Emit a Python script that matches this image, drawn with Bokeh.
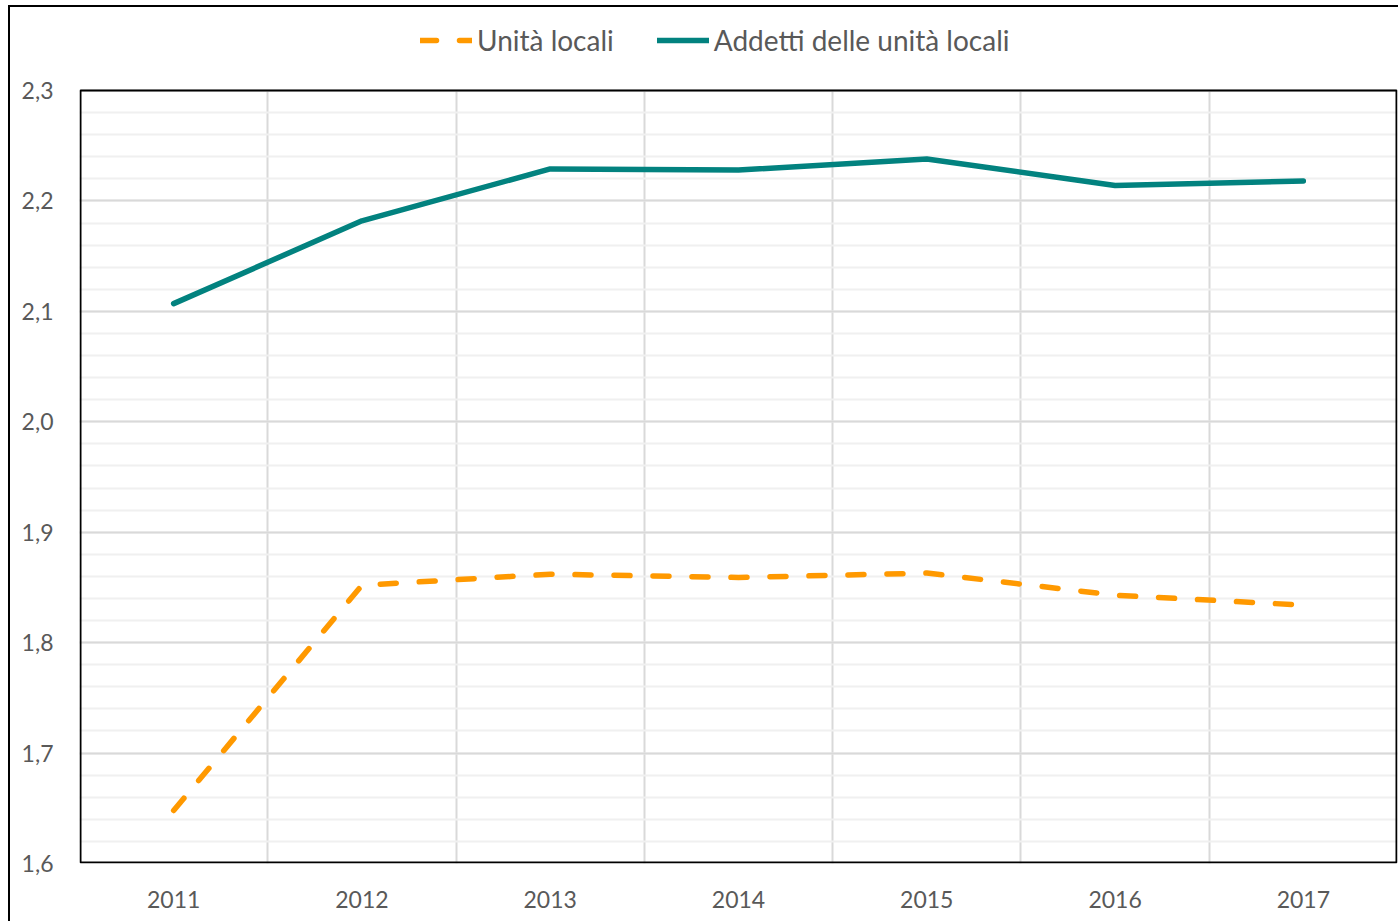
from bokeh.plotting import figure
from bokeh.models import FixedTicker, Legend, LegendItem, ColumnDataSource, BoxAnnotation
from bokeh.embed import file_html
from bokeh.resources import INLINE
import numpy as np

years = ["2011", "2012", "2013", "2014", "2015", "2016", "2017"]
unita_locali = [1.648, 1.852, 1.862, 1.859, 1.863, 1.843, 1.834]
addetti = [2.107, 2.182, 2.229, 2.228, 2.238, 2.214, 2.218]
y_ticks = [1.6, 1.7, 1.8, 1.9, 2.0, 2.1, 2.2, 2.3]
y_labels = ["1,6", "1,7", "1,8", "1,9", "2,0", "2,1", "2,2", "2,3"]

FONT = "Lato"
GREY = "#595959"

# layout (pixels)
FW, FH = 1318, 856        # frame incl. legend strip above the plotting box
TOP_STRIP = 83            # legend strip height inside frame
Y0, Y1 = 1.6, 2.3
BOX_H = FH - TOP_STRIP
y_end = Y1 + (Y1 - Y0) * TOP_STRIP / BOX_H
dx = len(years) / FW
dy = (Y1 - Y0) / BOX_H

x = list(range(len(years)))
src = ColumnDataSource(dict(x=x, u=unita_locali, a=addetti))

p = figure(frame_width=FW, frame_height=FH, output_backend="svg", toolbar_location=None,
           x_range=(-0.5, len(years) - 0.5), y_range=(Y0, y_end),
           min_border_left=69, min_border_top=0, min_border_bottom=58, min_border_right=1)
p.margin = (5, 0, 0, 8)
p.styles = {"border-left": "2px solid black", "border-top": "2px solid black"}
p.outline_line_color = None

# axes
p.xaxis.ticker = FixedTicker(ticks=x)
p.xaxis.major_label_overrides = {i: y for i, y in enumerate(years)}
p.yaxis.ticker = FixedTicker(ticks=y_ticks, minor_ticks=list(np.round(np.arange(1.6, 2.3001, 0.02), 2)))
p.yaxis.major_label_overrides = dict(zip(y_ticks, y_labels))
for ax in (p.xaxis[0], p.yaxis[0]):
    ax.axis_line_color = None
    ax.major_tick_line_color = None
    ax.minor_tick_line_color = None
    ax.major_label_text_font = FONT
    ax.major_label_text_font_size = "23px"
    ax.major_label_text_color = GREY
p.yaxis.major_label_standoff = 20
p.xaxis.major_label_standoff = 21

# grids
p.ygrid.grid_line_color = "#d9d9d9"
p.ygrid.grid_line_width = 2
p.ygrid.minor_grid_line_color = "#f0f0f0"
p.ygrid.minor_grid_line_width = 2
p.xgrid.ticker = FixedTicker(ticks=[i + 0.5 for i in x[:-1]])
p.xgrid.grid_line_color = "#d9d9d9"
p.xgrid.grid_line_width = 2
p.xgrid.cross_bounds = (Y0, Y1)

# plot box border
p.add_layout(BoxAnnotation(left=-0.5 + dx, right=len(years) - 0.5 - dx,
                           bottom=Y0 + dy, top=Y1, fill_alpha=0,
                           line_color="black", line_alpha=1.0, line_width=2, level="overlay"))

r_u = p.line("x", "u", source=src, line_color="#FF9900", line_width=5.5,
             line_dash="16 23", line_cap="round", line_join="round")
r_a = p.line("x", "a", source=src, line_color="#02827F", line_width=5.5,
             line_cap="round", line_join="round")

legend = Legend(items=[LegendItem(label="Unità locali", renderers=[r_u]),
                       LegendItem(label="Addetti delle unità locali", renderers=[r_a])],
                orientation="horizontal", location=(341, 806),
                padding=0, margin=0, spacing=43, glyph_width=52, glyph_height=24,
                label_standoff=5, label_height=24,
                label_text_font=FONT, label_text_font_size="28px", label_text_color=GREY,
                border_line_color=None, background_fill_alpha=0)
p.add_layout(legend, "center")

open("out.html", "w").write(file_html(p, INLINE))
